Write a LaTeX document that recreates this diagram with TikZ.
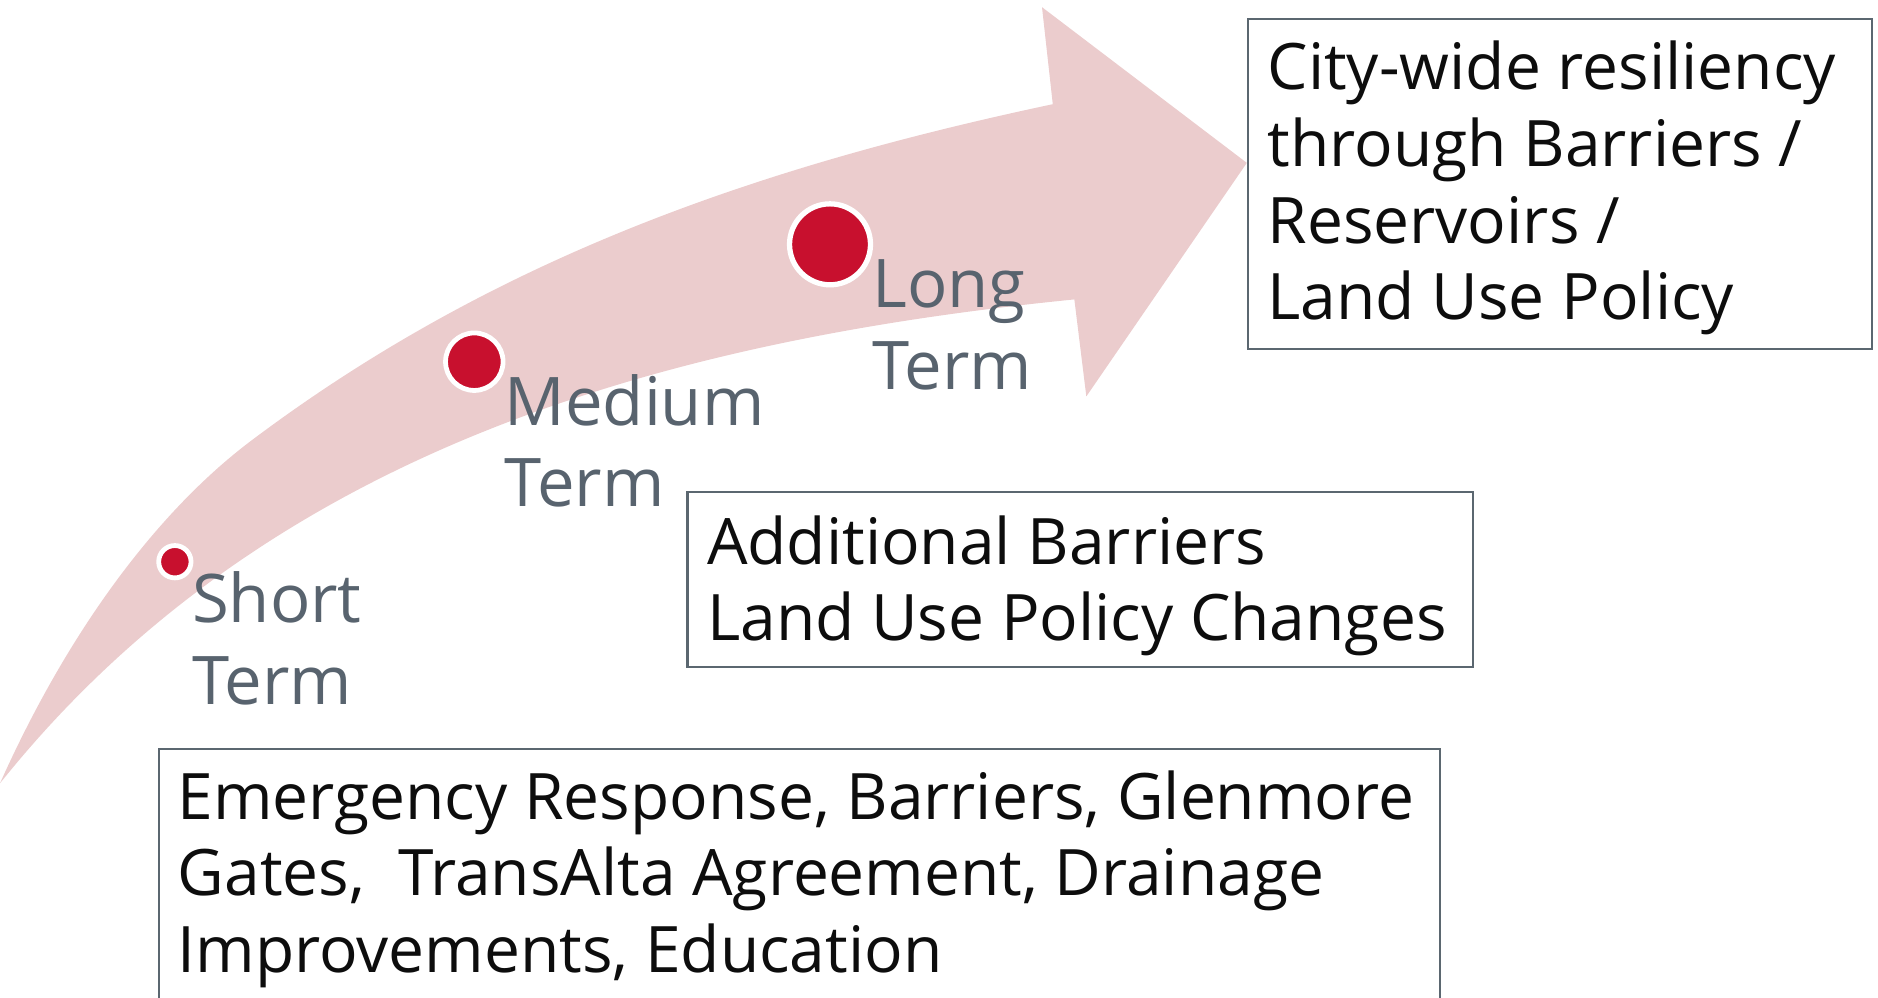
\documentclass[tikz,border=0pt]{standalone}
\usepackage{fontspec}
\setmainfont{Open Sans}
\definecolor{arrowpink}{RGB}{235,204,205}
\definecolor{dotred}{RGB}{200,16,46}
\definecolor{labelgray}{RGB}{88,99,110}
\definecolor{boxgray}{RGB}{91,103,112}
\definecolor{textblack}{RGB}{13,13,13}
\begin{document}
\begin{tikzpicture}[x=0.5pt,y=-0.5pt,
 boxstyle/.style={draw=boxgray, line width=0.85pt},
 boxtext/.style={anchor=base west, inner sep=0pt, text=textblack, font=\fontsize{26.75}{32}\selectfont},
 termlabel/.style={anchor=base west, inner sep=0pt, text=labelgray, font=\fontsize{28}{34}\selectfont},
 termdot/.style={circle, fill=dotred, draw=white, line width=2pt, inner sep=0pt}]
\useasboundingbox (0,0) rectangle (1568,833);
\clip (0,0) rectangle (1568,833);
% arrow
\fill[arrowpink] (0,654) .. controls (60,520) and (136,423) .. (211,367)
  .. controls (411,217) and (629,140) .. (879,87)
  -- (870,6) -- (1041,136) -- (907,331) -- (897,250)
  .. controls (547,285) and (220,379) .. (0,654) -- cycle;
% boxes
\draw[boxstyle] (1042,16) rectangle (1563,291);
\draw[boxstyle] (574,411) rectangle (1230,557);
\draw[boxstyle] (133,625) rectangle (1202,870);
% box texts
\node[boxtext] (longgoal) at (1058,75) {\begin{tabular}[t]{@{}l@{}}City-wide resiliency\\through Barriers /\\Reservoirs /\\Land Use Policy\end{tabular}};
\node[boxtext] (medgoal) at (590,471) {\begin{tabular}[t]{@{}l@{}}Additional Barriers\\Land Use Policy Changes\end{tabular}};
\node[boxtext] (shortgoal) at (148,684) {\begin{tabular}[t]{@{}l@{}}Emergency Response, Barriers, Glenmore\\Gates,~ TransAlta Agreement, Drainage\\Improvements, Education\end{tabular}};
% dots
\node[termdot, minimum size=13.5pt] (shortdot) at (146,469) {};
\node[termdot, minimum size=24pt] (meddot) at (396,302) {};
\node[termdot, line width=2.2pt, minimum size=33.8pt] (longdot) at (693,204) {};
% labels
\node[termlabel] (shortlbl) at (160,520) {\begin{tabular}[t]{@{}l@{}}Short\\Term\end{tabular}};
\node[termlabel] (medlbl) at (421,355) {\begin{tabular}[t]{@{}l@{}}Medium\\Term\end{tabular}};
\node[termlabel] (longlbl) at (728,257) {\begin{tabular}[t]{@{}l@{}}Long\\Term\end{tabular}};
\end{tikzpicture}
\end{document}
